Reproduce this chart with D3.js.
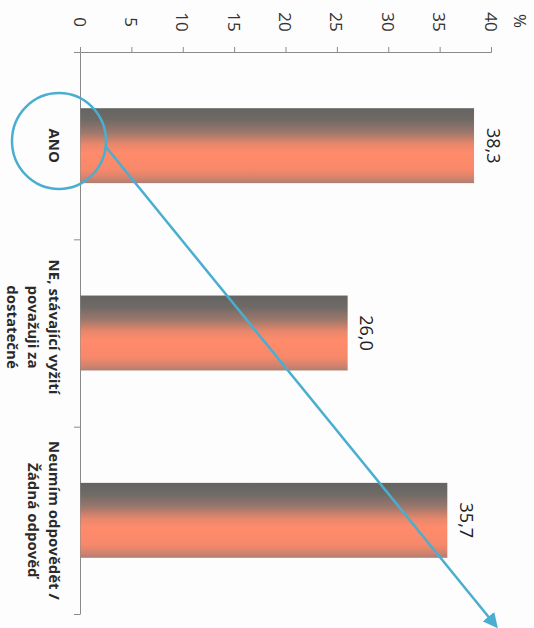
<!DOCTYPE html>
<html>
<head>
<meta charset="utf-8">
<script src="https://cdn.jsdelivr.net/npm/d3@7"></script>
<style>
  body { margin: 0; background: #fdfdfd; }
  svg { display: block; }
</style>
</head>
<body>
<div id="chart"></div>
<script>
var categories = ["ANO", "NE, stávající vyžití považuji za dostatečné", "Neumím odpovědět / Žádná odpověď"];
var catLines = [["ANO"], ["NE, stávající vyžití", "považuji za", "dostatečné"], ["Neumím odpovědět /", "Žádná odpověď"]];
var values = [38.3, 26.0, 35.7];
var valueLabels = ["38,3", "26,0", "35,7"];
var tickValues = [0, 5, 10, 15, 20, 25, 30, 35, 40];

var W = 534, H = 628;
var svg = d3.select("#chart").append("svg").attr("width", W).attr("height", H);
svg.append("rect").attr("width", W).attr("height", H).attr("fill", "#fdfdfd");

var defs = svg.append("defs");
var grad = defs.append("linearGradient").attr("id", "barGrad")
  .attr("x1", 0).attr("y1", 0).attr("x2", 0).attr("y2", 1);
[[0, "#646462"], [0.15, "#6f6a66"], [0.32, "#9c776c"], [0.48, "#e9876b"],
 [0.6, "#ff8b6b"], [0.82, "#f8886a"], [0.94, "#d0836e"], [1, "#ad7e72"]].forEach(function (s) {
  grad.append("stop").attr("offset", s[0]).attr("stop-color", s[1]);
});

var marker = defs.append("marker").attr("id", "arrow")
  .attr("viewBox", "0 0 10 10").attr("refX", 8).attr("refY", 5)
  .attr("markerWidth", 6).attr("markerHeight", 6).attr("orient", "auto");
marker.append("path").attr("d", "M0,0L10,5L0,10z").attr("fill", "#4aaed0");

var x = d3.scaleLinear().domain([0, 40]).range([80, 491]);
var y = d3.scaleBand().domain(categories).range([52, 614]).paddingInner(0.6).paddingOuter(0.3);
var yEdge = d3.scaleLinear().domain([0, categories.length]).range([52, 614]);

// value axis on top
var xAxis = svg.append("g").attr("transform", "translate(0,52)")
  .call(d3.axisTop(x).tickValues(tickValues).tickSize(5).tickSizeOuter(5).tickFormat(""));
xAxis.select(".domain").attr("stroke", "#8a8a8a");
xAxis.selectAll(".tick line").attr("stroke", "#8a8a8a");

svg.selectAll(".tlabel").data(tickValues).enter().append("text")
  .attr("class", "tlabel")
  .attr("transform", function (d) { return "translate(" + x(d) + ",22) rotate(90)"; })
  .attr("text-anchor", "middle").attr("dominant-baseline", "central")
  .attr("font-family", "Open Sans").attr("font-size", 17).attr("fill", "#333")
  .text(function (d) { return d; });

svg.append("text")
  .attr("transform", "translate(520,21) rotate(90)")
  .attr("text-anchor", "middle").attr("dominant-baseline", "central")
  .attr("font-family", "Open Sans").attr("font-size", 17).attr("fill", "#333")
  .text("%");

// category axis
var yAxis = svg.append("g").attr("transform", "translate(80,0)")
  .call(d3.axisLeft(yEdge).tickValues([0, 1, 2, 3]).tickSize(6).tickSizeOuter(0).tickFormat(""));
yAxis.select(".domain").attr("stroke", "#8a8a8a");
yAxis.selectAll(".tick line").attr("stroke", "#8a8a8a");

// bars
svg.selectAll(".bar").data(values).enter().append("rect")
  .attr("class", "bar")
  .attr("x", x(0) + 0.5)
  .attr("y", function (d, i) { return y(categories[i]); })
  .attr("width", function (d) { return x(d) - x(0); })
  .attr("height", y.bandwidth())
  .attr("fill", "url(#barGrad)");

// value labels
svg.selectAll(".vlabel").data(values).enter().append("text")
  .attr("class", "vlabel")
  .attr("transform", function (d, i) {
    return "translate(" + (x(d) + 20) + "," + (y(categories[i]) + y.bandwidth() / 2) + ") rotate(90)";
  })
  .attr("text-anchor", "middle").attr("dominant-baseline", "central")
  .attr("font-family", "Open Sans").attr("font-size", 18).attr("fill", "#222")
  .text(function (d, i) { return valueLabels[i]; });

// category labels, rotated, lines stack to the left
catLines.forEach(function (lines, i) {
  var cy = y(categories[i]) + y.bandwidth() / 2 - (i == 1 ? 6 : 0);
  lines.forEach(function (ln, j) {
    svg.append("text")
      .attr("transform", "translate(" + (55 - j * 21) + "," + cy + ") rotate(90)")
      .attr("text-anchor", "middle").attr("dominant-baseline", "central")
      .attr("font-family", "Open Sans").attr("font-weight", "bold")
      .attr("font-size", 15).attr("fill", "#2a2a2a")
      .text(ln);
  });
});

// blue annotation
svg.append("ellipse")
  .attr("cx", 59).attr("cy", 141).attr("rx", 47).attr("ry", 48)
  .attr("fill", "none").attr("stroke", "#4aaed0").attr("stroke-width", 2.5);
svg.append("line")
  .attr("x1", 106).attr("y1", 147).attr("x2", 496).attr("y2", 626)
  .attr("stroke", "#4aaed0").attr("stroke-width", 2.5)
  .attr("marker-end", "url(#arrow)");
</script>
</body>
</html>
